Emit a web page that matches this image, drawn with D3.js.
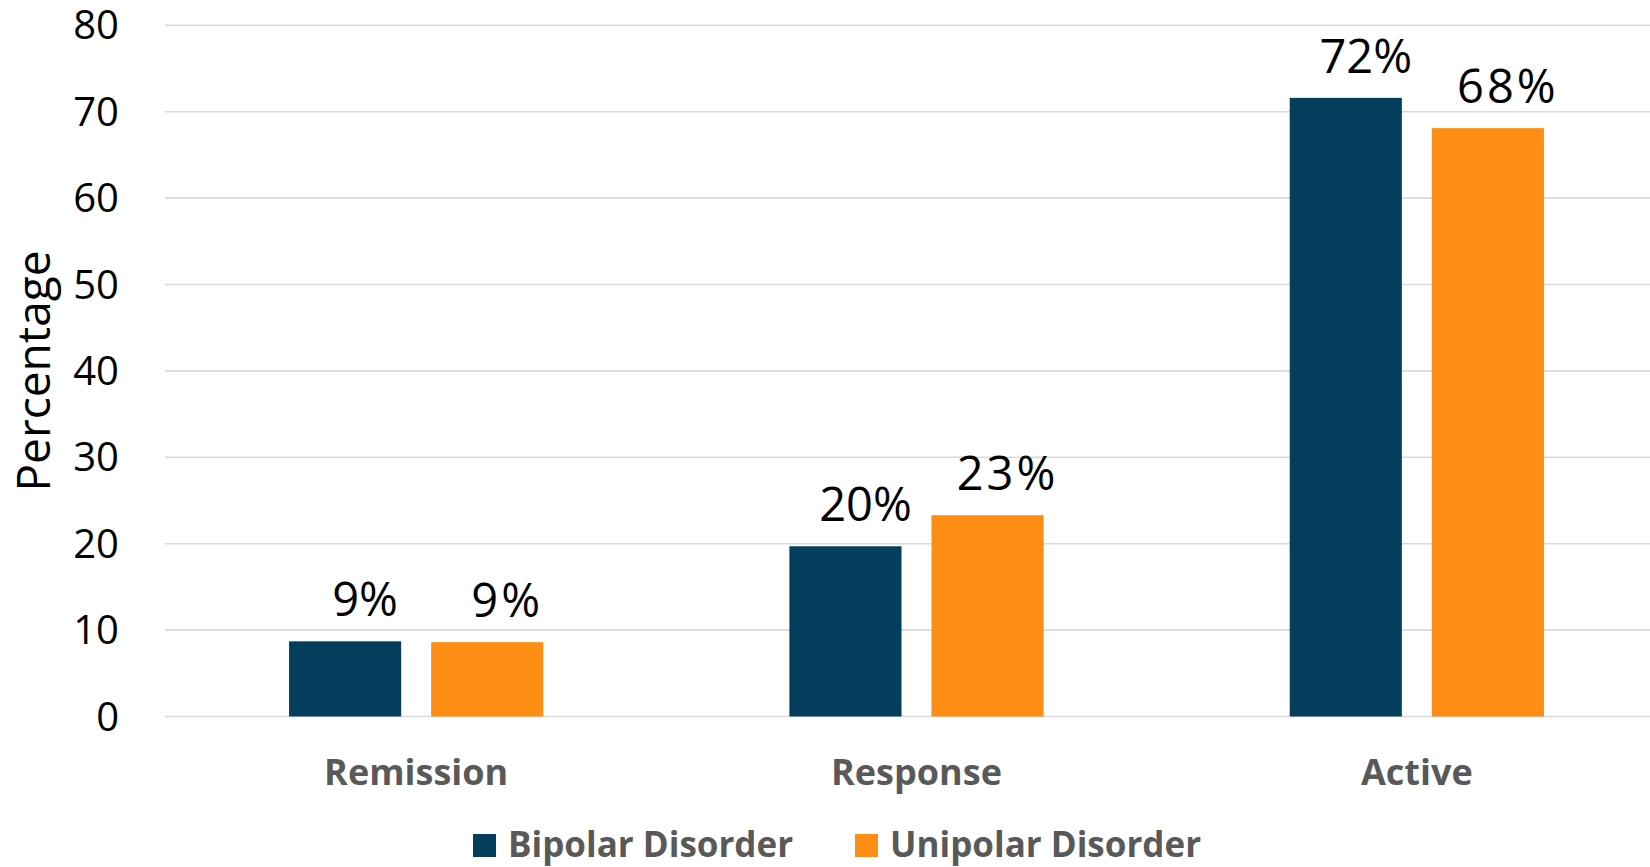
<!DOCTYPE html>
<html>
<head>
<meta charset="utf-8">
<script src="https://cdn.jsdelivr.net/npm/d3@7"></script>
<style>
    body { margin: 0; background: #fff; }
    svg { display: block; font-family: "Open Sans", sans-serif; }
    .grid line { stroke: #d9d9d9; stroke-width: 1.6px; }
    .tick_text { font-size: 40px; fill: #000; }
    .cat_text { font-size: 36px; font-weight: 700; fill: #595959; }
    .bar_text { font-size: 47px; fill: #000; }
    .legend_text { font-size: 35px; font-weight: 700; fill: #595959; }
    .axis_title { font-size: 46px; fill: #000; }
</style>
</head>
<body>
<div id="graph"></div>
<script>
//数据
const categories = ["Remission", "Response", "Active"];
const series = ["Bipolar Disorder", "Unipolar Disorder"];
const bipolar_values = [8.7, 19.7, 71.6];
const unipolar_values = [8.6, 23.3, 68.1];
const bar_labels = [["9%", "20%", "72%"], ["9%", "23%", "68%"]];
const y_ticks = [0, 10, 20, 30, 40, 50, 60, 70, 80];
const colors = ["#033f5c", "#fd8d15"];

//绘图属性
const width = 1650;
const height = 867;

var svg = d3.select("#graph").append("svg")
    .attr("width", width).attr("height", height);

var x0 = d3.scaleBand().domain(categories).range([166, 1667]).padding(0);
var x1 = d3.scaleBand().domain(series).range([0, x0.bandwidth()])
    .paddingInner(0.211).paddingOuter(0.866);
var y = d3.scaleLinear().domain([0, 80]).range([716.5, 25.3]);

draw_grid();
draw_bars();
draw_labels();
draw_legend();

function draw_grid() {
    let grid = svg.append("g").attr("class", "grid");
    grid.selectAll("line")
        .data(y_ticks)
        .enter()
        .append("line")
        .attr("x1", 165).attr("x2", x0.range()[1])
        .attr("y1", d => y(d)).attr("y2", d => y(d));

    svg.append("g").selectAll("text")
        .data(y_ticks)
        .enter()
        .append("text")
        .attr("class", "tick_text")
        .attr("x", 119)
        .attr("y", d => y(d))
        .attr("dy", "0.35em")
        .attr("text-anchor", "end")
        .text(d => d);

    svg.append("text")
        .attr("class", "axis_title")
        .attr("transform", "translate(50," + 371 + ") rotate(-90)")
        .attr("text-anchor", "middle")
        .text("Percentage");
}

function draw_bars() {
    let rows = categories.map((c, i) => ({
        cat: c,
        vals: [bipolar_values[i], unipolar_values[i]],
        labels: [bar_labels[0][i], bar_labels[1][i]]
    }));

    let groups = svg.append("g").attr("id", "bars")
        .selectAll("g")
        .data(rows)
        .enter()
        .append("g")
        .attr("transform", d => "translate(" + x0(d.cat) + ",0)");

    let items = d => series.map((s, j) => ({s: s, v: d.vals[j], label: d.labels[j], j: j}));

    groups.selectAll("rect")
        .data(items)
        .enter()
        .append("rect")
        .attr("x", d => x1(d.s))
        .attr("y", d => y(d.v))
        .attr("width", x1.bandwidth())
        .attr("height", d => y(0) - y(d.v))
        .attr("fill", d => colors[d.j]);

    //数据标签
    groups.selectAll("text")
        .data(items)
        .enter()
        .append("text")
        .attr("class", "bar_text")
        .attr("x", d => x1(d.s) + x1.bandwidth() / 2 + 20)
        .attr("y", d => y(d.v) - 25)
        .attr("text-anchor", "middle")
        .style("letter-spacing", d => d.j === 1 ? "3px" : "0px")
        .text(d => d.label);
}

function draw_labels() {
    svg.append("g").selectAll("text")
        .data(categories)
        .enter()
        .append("text")
        .attr("class", "cat_text")
        .attr("x", d => x0(d) + x0.bandwidth() / 2)
        .attr("y", 785)
        .attr("text-anchor", "middle")
        .text(d => d);
}

function draw_legend() {
    const legend_x = [473, 855];
    let legend = svg.append("g").attr("id", "legend")
        .selectAll("g")
        .data(series)
        .enter()
        .append("g")
        .attr("transform", (d, i) => "translate(" + legend_x[i] + ",834)");

    legend.append("rect")
        .attr("width", 23).attr("height", 23)
        .attr("fill", (d, i) => colors[i]);

    legend.append("text")
        .attr("class", "legend_text")
        .attr("x", 35)
        .attr("y", 23)
        .text(d => d);
}
</script>
</body>
</html>
